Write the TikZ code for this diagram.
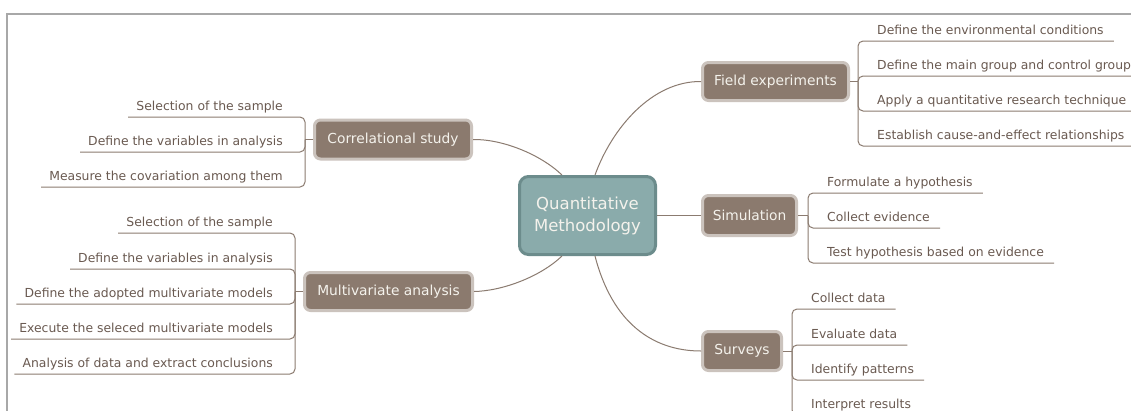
\documentclass[tikz,border=0pt]{standalone}
\usepackage{fontspec}
\setmainfont{DejaVu Sans}
\usetikzlibrary{calc}
\definecolor{lineC}{HTML}{8B7B70}
\definecolor{boxF}{HTML}{8B7A6E}
\definecolor{boxB}{HTML}{CBC3BD}
\definecolor{cenF}{HTML}{8AABAB}
\definecolor{cenB}{HTML}{6C8C8C}
\definecolor{leafT}{HTML}{6A5A51}
\definecolor{lightT}{HTML}{F4F2EC}
\definecolor{frameC}{HTML}{A8A8A8}
\tikzset{
  cbox/.style={rounded corners=9pt, fill=cenF, draw=cenB, line width=3pt, text=lightT,
    font=\fontsize{16.5}{22}\selectfont, align=center, minimum width=136pt, minimum height=78pt, inner sep=0pt},
  topic/.style={rounded corners=6pt, fill=boxF, draw=boxB, line width=3pt, text=lightT,
    font=\fontsize{13.8}{17}\selectfont, minimum height=39pt, inner sep=0pt},
  leafR/.style={anchor=south west, inner sep=0pt, text depth=6pt, font=\fontsize{12.4}{15}\selectfont, text=leafT},
  leafL/.style={anchor=south east, inner sep=0pt, text depth=6pt, font=\fontsize{12.4}{15}\selectfont, text=leafT},
  conn/.style={draw=lineC, line width=1pt},
  brk/.style={conn, rounded corners=5pt},
  framel/.style={draw=frameC, line width=1.5pt}
}
\newcommand{\LR}[1]{\hspace*{19pt}#1\hspace*{10pt}}
\newcommand{\LL}[1]{\hspace*{8pt}#1\hspace*{22pt}}
\begin{document}
\begin{tikzpicture}[x=1pt,y=-1pt]
\useasboundingbox (0,0) rectangle (1131,410);
\clip (0,0) rectangle (1131,410);
\fill[white] (0,0) rectangle (1131,410);
% frame
\coordinate (f0) at (7,14);
\coordinate (f1) at (1135,14);
\coordinate (f2) at (7,415);
\draw[framel] (f1) -- (f0) -- (f2);

% central and topics
\node[cbox] (q) at (587.5,215.5) {Quantitative\\Methodology};
\node[topic, minimum width=157pt] (cs) at (393,139.5) {Correlational study};
\node[topic, minimum width=168pt, minimum height=38pt] (ma) at (388.5,291.5) {Multivariate analysis};
\node[topic, minimum width=146pt, minimum height=38pt] (fe) at (775.5,81.5) {Field experiments};
\node[topic, minimum width=94pt, minimum height=40pt] (si) at (749.5,215.5) {Simulation};
\node[topic, minimum width=79pt] (su) at (742,351) {Surveys};

% main connectors
\coordinate (qa) at ($(q.north)+(-25.5,0)$);
\coordinate (qb) at ($(q.north)+(7.5,0)$);
\coordinate (qc) at ($(q.south)+(-25.5,0)$);
\coordinate (qd) at ($(q.south)+(7.5,0)$);
\draw[conn] (qa) .. controls (540,154) and (502,139) .. (cs.east);
\draw[conn] (qb) .. controls (612,128) and (652,81) .. (fe.west);
\draw[conn] (q.east) -- (si.west);
\draw[conn] (qc) .. controls (540,277) and (502,291) .. (ma.east);
\draw[conn] (qd) .. controls (612,322) and (652,351) .. (su.west);

% Correlational study leaves
\coordinate (cj) at (305,139.5);
\draw[conn] (cs.west) -- (cj);
\node[leafL] (c1) at (305,117) {\LL{Selection of the sample}};
\node[leafL] (c2) at (305,152) {\LL{Define the variables in analysis}};
\node[leafL] (c3) at (305,187) {\LL{Measure the covariation among them}};
\foreach \n in {c1,c2,c3} \draw[brk] (cj) |- (\n.south west);

% Multivariate analysis leaves
\coordinate (mj) at (295,291.5);
\draw[conn] (ma.west) -- (mj);
\node[leafL] (m1) at (295,233) {\LL{Selection of the sample}};
\node[leafL] (m2) at (295,269) {\LL{Define the variables in analysis}};
\node[leafL] (m3) at (295,304) {\LL{Define the adopted multivariate models}};
\node[leafL] (m4) at (295,339) {\LL{Execute the seleced multivariate models}};
\node[leafL] (m5) at (295,374) {\LL{Analysis of data and extract conclusions}};
\foreach \n in {m1,m2,m3,m4,m5} \draw[brk] (mj) |- (\n.south west);

% Field experiments leaves
\coordinate (fj) at (858,81.5);
\draw[conn] (fe.east) -- (fj);
\node[leafR] (e1) at (858,41) {\LR{Define the environmental conditions}};
\node[leafR] (e2) at (858,76) {\LR{Define the main group and control group}};
\node[leafR] (e3) at (858,111) {\LR{Apply a quantitative research technique}};
\node[leafR] (e4) at (858,146) {\LR{Establish cause-and-effect relationships}};
\foreach \n in {e1,e2,e3,e4} \draw[brk] (fj) |- (\n.south east);

% Simulation leaves
\coordinate (sj) at (808,215.5);
\draw[conn] (si.east) -- (sj);
\node[leafR] (s1) at (808,193) {\LR{Formulate a hypothesis}};
\node[leafR] (s2) at (808,228) {\LR{Collect evidence}};
\node[leafR] (s3) at (808,263) {\LR{Test hypothesis based on evidence}};
\foreach \n in {s1,s2,s3} \draw[brk] (sj) |- (\n.south east);

% Surveys leaves
\coordinate (uj) at (792,351);
\draw[conn] (su.east) -- (uj);
\node[leafR] (u1) at (792,309) {\LR{Collect data}};
\node[leafR] (u2) at (792,345) {\LR{Evaluate data}};
\node[leafR] (u3) at (792,380) {\LR{Identify patterns}};
\node[leafR] (u4) at (792,415) {\LR{Interpret results}};
\foreach \n in {u1,u2,u3,u4} \draw[brk] (uj) |- (\n.south east);
\end{tikzpicture}
\end{document}
